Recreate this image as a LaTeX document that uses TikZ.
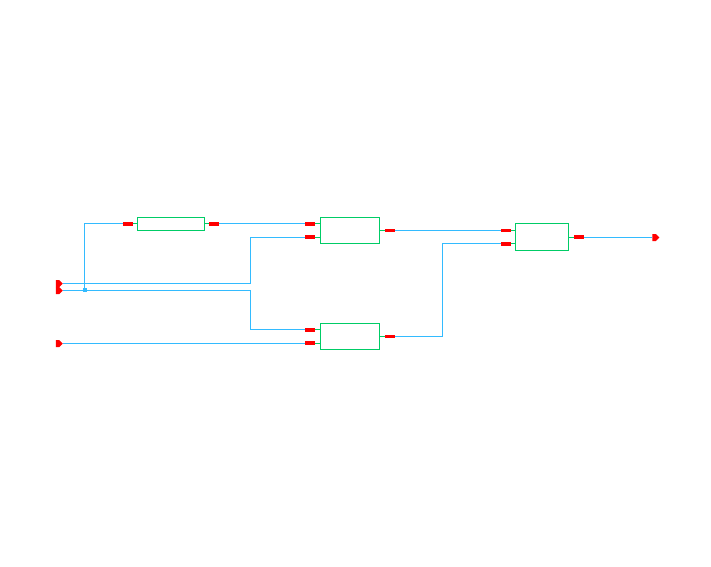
\documentclass[tikz,border=0pt]{standalone}
\usetikzlibrary{shapes.symbols}
\definecolor{wirecol}{HTML}{33BBFF}
\definecolor{boxcol}{HTML}{00CC66}
\definecolor{pincol}{HTML}{FF0000}
\tikzset{
  every node/.style={inner sep=0pt, outer sep=0pt},
  blockbox/.style={draw=boxcol, line width=1pt, fill=white, minimum width=#1, anchor=center},
  pinbar/.style={fill=pincol, minimum width=10pt, minimum height=4pt},
  thinbar/.style={fill=pincol, minimum width=10pt, minimum height=3pt},
  termtip/.style={shape=signal, signal to=east, signal from=nowhere, fill=pincol, minimum width=7pt, minimum height=7pt, signal pointer angle=90},
  wire/.style={draw=wirecol, line width=1pt},
  stub/.style={draw=boxcol, line width=1pt},
  dotsq/.style={fill=wirecol, minimum width=4pt, minimum height=4pt}
}
\begin{document}
\begin{tikzpicture}[x=1pt,y=-1pt]
\useasboundingbox[fill=white] (0,0) rectangle (711,566);
% blocks
\node[blockbox=67pt, minimum height=13pt] (A) at (171,224) {};
\node[blockbox=59pt, minimum height=26pt] (B) at (350,230.5) {};
\node[blockbox=59pt, minimum height=26pt] (C) at (350,336.5) {};
\node[blockbox=53pt, minimum height=27pt] (D) at (542,237) {};
% pins
\node[pinbar] (Ai) at (128,224) {};
\node[pinbar] (Ao) at (214,224) {};
\node[pinbar] (Bi1) at (310,224) {};
\node[pinbar] (Bi2) at (310,237) {};
\node[thinbar] (Bo) at (390,230.5) {};
\node[pinbar] (Ci1) at (310,330) {};
\node[pinbar] (Ci2) at (310,343) {};
\node[thinbar] (Co) at (390,336.5) {};
\node[thinbar] (Di1) at (506,230.5) {};
\node[pinbar] (Di2) at (506,244) {};
\node[pinbar] (Do) at (579,237) {};
% terminals
\node[termtip] (T1) at (57.5,283.5) {};
\node[termtip] (T2) at (57.5,290.5) {};
\node[termtip] (T3) at (57.5,343.5) {};
\node[termtip] (T4) at (654,237.5) {};
% junction
\node[dotsq] (J) at (85,290) {};
% stubs
\draw[stub] ([yshift=.5pt]Ai.east) -- ([yshift=.5pt]Ai.east -| A.west);
\draw[stub] ([yshift=.5pt]Ao.west) -- ([yshift=.5pt]Ao.west -| A.east);
\draw[stub] ([yshift=.5pt]Bi1.east) -- ([yshift=.5pt]Bi1.east -| B.west);
\draw[stub] ([yshift=-.5pt]Bi2.east) -- ([yshift=-.5pt]Bi2.east -| B.west);
\draw[stub] (Bo.west) -- (Bo.west -| B.east);
\draw[stub] ([yshift=.5pt]Ci1.east) -- ([yshift=.5pt]Ci1.east -| C.west);
\draw[stub] ([yshift=-.5pt]Ci2.east) -- ([yshift=-.5pt]Ci2.east -| C.west);
\draw[stub] (Co.west) -- (Co.west -| C.east);
\draw[stub] (Di1.east) -- (Di1.east -| D.west);
\draw[stub] ([yshift=.5pt]Di2.east) -- ([yshift=.5pt]Di2.east -| D.west);
\draw[stub] ([yshift=-.5pt]Do.west) -- ([yshift=-.5pt]Do.west -| D.east);
% wires
\draw[wire] ([yshift=.5pt]Ai.west) -| ([xshift=-.5pt]J.center);
\draw[wire] ([yshift=.5pt]Ao.east) -- ([yshift=.5pt]Bi1.west);
\draw[wire] (T1.east) -- (250.5,283.5) -- (250.5,237.5) -- ([yshift=-.5pt]Bi2.west);
\draw[wire] (T2.east) -- (250.5,290.5) -- (250.5,329.5) -- ([yshift=.5pt]Ci1.west);
\draw[wire] (T3.east) -- ([yshift=-.5pt]Ci2.west);
\draw[wire] (Bo.east) -- (Di1.west);
\draw[wire] (Co.east) -- (442.5,336.5) -- (442.5,243.5) -- ([yshift=.5pt]Di2.west);
\draw[wire] ([yshift=-.5pt]Do.east) -- (T4.west);
\end{tikzpicture}
\end{document}
